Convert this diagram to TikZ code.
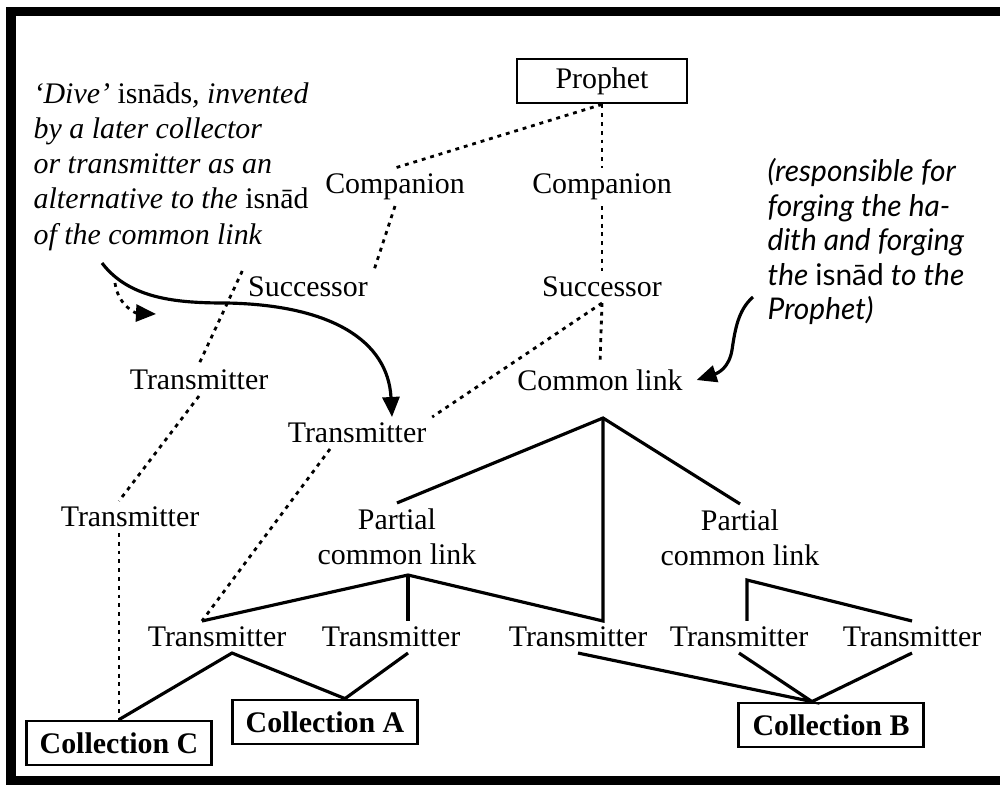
\documentclass[tikz,border=0pt]{standalone}
\usepackage{fontspec}
\setmainfont{Liberation Serif}
\newfontfamily\notefont{Lato}
\usetikzlibrary{arrows.meta}

\begin{document}
\begin{tikzpicture}[x=0.01cm,y=-0.01cm,
  every node/.style={font=\fontsize{8.5}{10}\selectfont, inner sep=1.5pt},
  box/.style={draw, line width=0.8pt, inner sep=0pt, minimum height=0.44cm,
    minimum width=1.85cm, font=\fontsize{8.5}{10}\selectfont\bfseries},
  chain/.style={line width=0.8pt, dash pattern=on 1.1pt off 1.4pt},
  link/.style={line width=0.9pt},
  tip/.style={-{Triangle[length=0.2cm,width=0.17cm]}}]
  \useasboundingbox (0,0) rectangle (1000,787);
  \draw[line width=0.09cm] (1000,11) -- (11,11) -- (11,780) -- (1000,780);

  % the isnad from the Prophet down to the common link
  \node[box, minimum width=1.7cm, font=\fontsize{8.5}{10}\selectfont] (prophet) at (602,81) {Prophet};
  \node (compR) at (602,187) {Companion};
  \node (compL) at (395,187) {Companion};
  \node (succR) at (602,287) {Successor};
  \node (succL) at (308,287) {Successor};
  \node (commonlink) at (600,380) {Common link};
  \node (transA) at (199,380) {Transmitter};
  \node (transM) at (357,433) {Transmitter};
  \node (transB) at (130,517) {Transmitter};
  \node[align=center] (pclL) at (397,537) {Partial\\common link};
  \node[align=center] (pclR) at (740,538) {Partial\\common link};

  \node (trans1) at (217,637) {Transmitter};
  \node (trans2) at (391,637) {Transmitter};
  \node (trans3) at (578,637) {Transmitter};
  \node (trans4) at (739,637) {Transmitter};
  \node (trans5) at (912,637) {Transmitter};

  \node[box] (collC) at (119,743) {Collection C};
  \node[box] (collA) at (325,722) {Collection A};
  \node[box] (collB) at (831,725) {Collection B};

  % notes
  \node[anchor=north west, inner sep=0pt, align=left, font=\fontsize{8.5}{10}\selectfont\itshape]
    (diveNote) at (33,82) {`Dive' \textup{isnāds}, invented\\by a later collector\\or transmitter as an\\
    alternative to the \textup{isnād}\\of the common link};
  \node[anchor=north west, inner sep=0pt, align=left, font=\notefont\fontsize{8.5}{9.8}\selectfont\itshape]
    (forgeNote) at (767,158) {(responsible for\\forging the ha-\\dith and forging\\the \textup{isnād} to the\\Prophet)};

  \coordinate (clfork) at (603,418);
  \coordinate (pclLfork) at (408,575);
  \coordinate (pclRfork) at (747,580);
  \coordinate (t1top) at ([xshift=-0.15cm]trans1.north);
  \coordinate (collAin) at ([xshift=0.2cm]collA.north);
  \coordinate (collBin) at ([xshift=-0.19cm]collB.north);

  % dotted chains
  \draw[chain] (prophet.south) -- (compL.north);
  \draw[chain] (compL.south) -- (succL.north east);
  \draw[chain] (succL.north west) -- (transA.north);
  \draw[chain] (transA.south) -- (transB.north -| collC.north);
  \draw[chain] (transB.south -| collC.north) -- (collC.north);
  \draw[chain] (prophet.south) -- (compR.north);
  \draw[chain] (compR.south) -- (succR.north);
  \draw[chain] (succR.south) -- (commonlink.north);
  \draw[chain] (succR.south) -- (transM.north east);
  \draw[chain] ([xshift=-0.27cm]transM.south) -- (t1top);

  % solid links
  \draw[link] (pclL.north) -- (clfork) -- (pclR.north);
  \draw[link] (clfork) -- (clfork |- trans3.north) -- (pclLfork) -- (t1top);
  \draw[link] (pclLfork) -- (pclLfork |- trans2.north);
  \draw[link] (pclRfork |- trans4.north) -- (pclRfork) -- (trans5.north);
  \draw[link] (collC.north) -- ([xshift=0.15cm]trans1.south) -- (collAin) -- ([xshift=0.17cm]trans2.south);
  \draw[link] (trans3.south) -- (collBin) -- (trans4.south);
  \draw[link] (collBin) -- (trans5.south);

  % arrows from the notes
  \coordinate (diveStart) at (102,263);
  \coordinate (diveBend) at (115,283);
  \coordinate (diveEnd) at (156,314);
  \coordinate (forgeStart) at (753,297);
  \draw[link, tip] (diveStart) .. controls (130,300) and (180,303) .. (227,303)
    .. controls (330,305) and (388,340) .. ([xshift=0.35cm]transM.north);
  \draw[chain, tip] (diveBend) .. controls (118,305) and (135,313) .. (diveEnd);
  \draw[link, tip] (forgeStart) .. controls (738,310) and (735,330) .. (732,350)
    .. controls (729,368) and (718,373) .. ([xshift=0.08cm]commonlink.east);
\end{tikzpicture}
\end{document}
